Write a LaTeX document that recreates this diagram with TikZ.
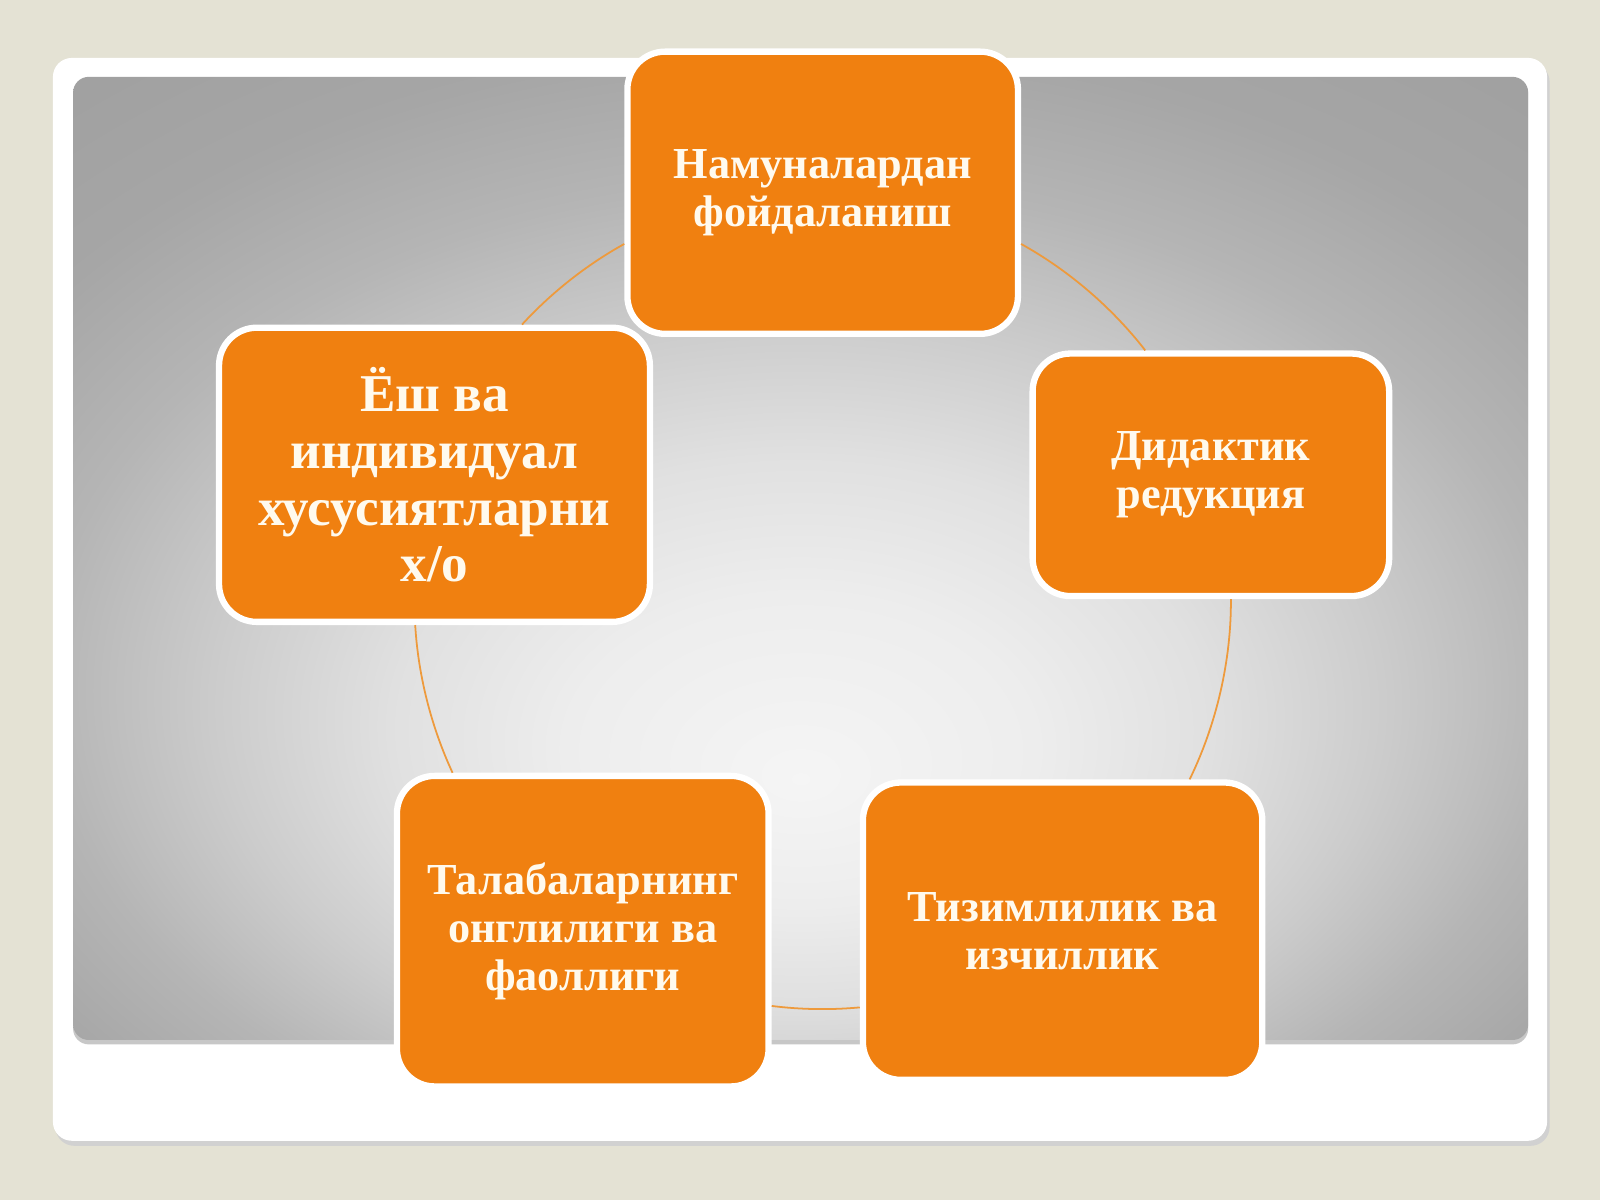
\documentclass[tikz,border=0pt]{standalone}
\usepackage{fontspec}
\setmainfont{Liberation Serif}
\definecolor{slidebeige}{HTML}{E4E2D4}
\definecolor{boxorange}{HTML}{F08010}
\definecolor{linkorange}{HTML}{EE9A3C}
\definecolor{boxtext}{HTML}{FFFAEE}
\pgfdeclareradialshading{panelglow}{\pgfpoint{0bp}{-11.5bp}}{%
  color(0bp)=(white!96!black); color(8bp)=(white!93!black); color(14bp)=(white!88!black);
  color(20bp)=(white!80!black); color(26bp)=(white!71!black); color(32bp)=(white!65!black);
  color(38bp)=(white!63!black); color(60bp)=(white!63!black)}

\begin{document}
\begin{tikzpicture}
% STYLES
\tikzset{%
    stage/.style={%
rectangle,
rounded corners=0.6cm,
fill=boxorange,
draw=white,
line width=0.1cm,
text=boxtext,
font=\bfseries\fontsize{20}{21.7}\selectfont,
align=center,
inner sep=5pt
                 },
    link/.style={draw=linkorange, line width=0.8pt, looseness=0.85}
             }

% Slide and panel
\useasboundingbox (0,0) rectangle (25.4,19.05);
\fill[slidebeige] (0,0) rectangle (25.4,19.05);
\fill[black!18, rounded corners=0.3cm] (0.88,0.86) rectangle (24.6,18.05);
\fill[white, rounded corners=0.3cm] (0.84,0.94) rectangle (24.56,18.13);
\fill[black!22, rounded corners=0.25cm] (1.16,2.47) rectangle (24.26,17.8);
\shade[shading=panelglow, rounded corners=0.25cm] (1.16,2.54) rectangle (24.26,17.83);
\coordinate (hub) at (13.06,9.51);

% Draw stages
\node [stage, minimum width=6.2cm, minimum height=4.48cm] (samples) at ([shift={(90:6.48)}]hub) {Намуналардан\\фойдаланиш};
\node [stage, minimum width=5.66cm, minimum height=3.85cm] (reduction) at ([shift={(18:6.48)}]hub) {Дидактик\\редукция};
\node [stage, minimum width=6.34cm, minimum height=4.72cm] (system) at ([shift={(-54:6.48)}]hub) {Тизимлилик ва\\изчиллик};
\node [stage, minimum width=5.9cm, minimum height=4.93cm] (activity) at ([shift={(-126:6.48)}]hub) {Талабаларнинг\\онглилиги ва\\фаоллиги};
\node [stage, minimum width=6.84cm, minimum height=4.67cm, font=\bfseries\fontsize{24}{25.7}\selectfont] (individual) at ([shift={(162:6.48)}]hub) {Ёш ва\\индивидуал\\хусусиятларни\\х/о};
% Draw the arcs between stages
\path[link]
([yshift=-0.813cm]samples.west) edge[out=209, in=47.4] ([xshift=1.39cm]individual.north)
([xshift=-0.306cm]individual.south) edge[out=273.4, in=114.9] ([xshift=-2.067cm]activity.north)
([yshift=-1.187cm]activity.east) edge[out=352.8, in=185.25] ([yshift=-1.21cm]system.west)
([xshift=2.017cm]system.north) edge[out=64, in=270.3] ([xshift=0.318cm]reduction.south)
([xshift=-1.042cm]reduction.north) edge[out=127.8, in=331] ([yshift=-0.813cm]samples.east);
\end{tikzpicture}
\end{document}
